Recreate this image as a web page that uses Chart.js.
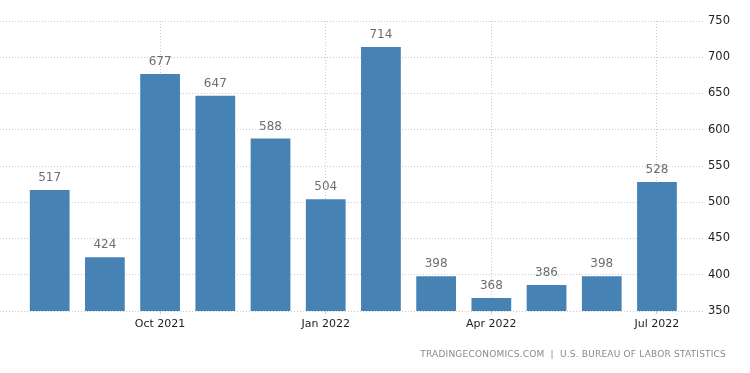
<!DOCTYPE html>
<html>
<head>
<meta charset="utf-8">
<script src="https://cdn.jsdelivr.net/npm/chart.js@4"></script>
<style>
  body { margin: 0; background: #fff; }
  #wrap { position: relative; width: 750px; height: 373px; }
  #source {
    position: absolute; right: 24px; top: 349px;
    font: 9px "DejaVu Sans", sans-serif; letter-spacing: 0.2px;
    color: #8a8a8a; white-space: nowrap;
  }
</style>
</head>
<body>
<div id="wrap">
  <canvas id="myChart" width="750" height="373"></canvas>
  <div id="source">TRADINGECONOMICS.COM &nbsp;|&nbsp; U.S. BUREAU OF LABOR STATISTICS</div>
</div>
<script>
const months = ['Aug 2021', 'Sep 2021', 'Oct 2021', 'Nov 2021', 'Dec 2021', 'Jan 2022',
                'Feb 2022', 'Mar 2022', 'Apr 2022', 'May 2022', 'Jun 2022', 'Jul 2022'];
const payrolls = [517, 424, 677, 647, 588, 504, 714, 398, 368, 386, 398, 528];
const xTickIndex = [2, 5, 8, 11];
const yTicks = [350, 400, 450, 500, 550, 600, 650, 700, 750];

const barColor = '#4682b4';
const gridColor = '#c8c8c8';

// value above each bar
const valueLabels = {
  id: 'valueLabels',
  afterDatasetsDraw(chart) {
    const ctx = chart.ctx;
    ctx.save();
    ctx.font = '12px "DejaVu Sans", sans-serif';
    ctx.fillStyle = '#6e6e6e';
    ctx.textAlign = 'center';
    ctx.textBaseline = 'bottom';
    chart.getDatasetMeta(0).data.forEach((bar, i) => {
      ctx.fillText(payrolls[i], bar.x, bar.y - 6);
    });
    ctx.restore();
  }
};

const ctx = document.getElementById('myChart').getContext('2d');
const chart = new Chart(ctx, {
  type: 'bar',
  data: {
    datasets: [{
      data: payrolls.map((v, i) => ({ x: i, y: v })),
      backgroundColor: barColor,
      borderWidth: 0,
      barPercentage: 0.72,
      categoryPercentage: 1
    }]
  },
  options: {
    responsive: false,
    animation: false,
    layout: { padding: { top: 21, right: 0, left: 0, bottom: 0 } },
    plugins: { legend: { display: false }, tooltip: { enabled: false } },
    scales: {
      x: {
        type: 'linear',
        offset: false,
        min: -0.9,
        max: 11.87,
        afterBuildTicks: s => { s.ticks = xTickIndex.map(v => ({ value: v })); },
        afterFit: s => { s.height = 62; },
        ticks: {
          callback: v => months[v],
          color: '#222',
          font: { family: 'DejaVu Sans', size: 11 },
          padding: 4,
          maxRotation: 0
        },
        grid: { offset: false, color: gridColor, drawTicks: true, tickLength: 3 },
        border: { display: false, dash: [1, 2] }
      },
      y: {
        position: 'right',
        min: 350,
        max: 750,
        afterBuildTicks: s => { s.ticks = yTicks.map(v => ({ value: v })); },
        afterFit: s => { s.width = 45; },
        ticks: {
          color: '#222',
          font: { family: 'DejaVu Sans', size: 11.5 },
          padding: 3
        },
        grid: { color: gridColor, drawTicks: false },
        border: { display: false, dash: [1, 2] }
      }
    }
  },
  plugins: [valueLabels]
});
</script>
</body>
</html>
